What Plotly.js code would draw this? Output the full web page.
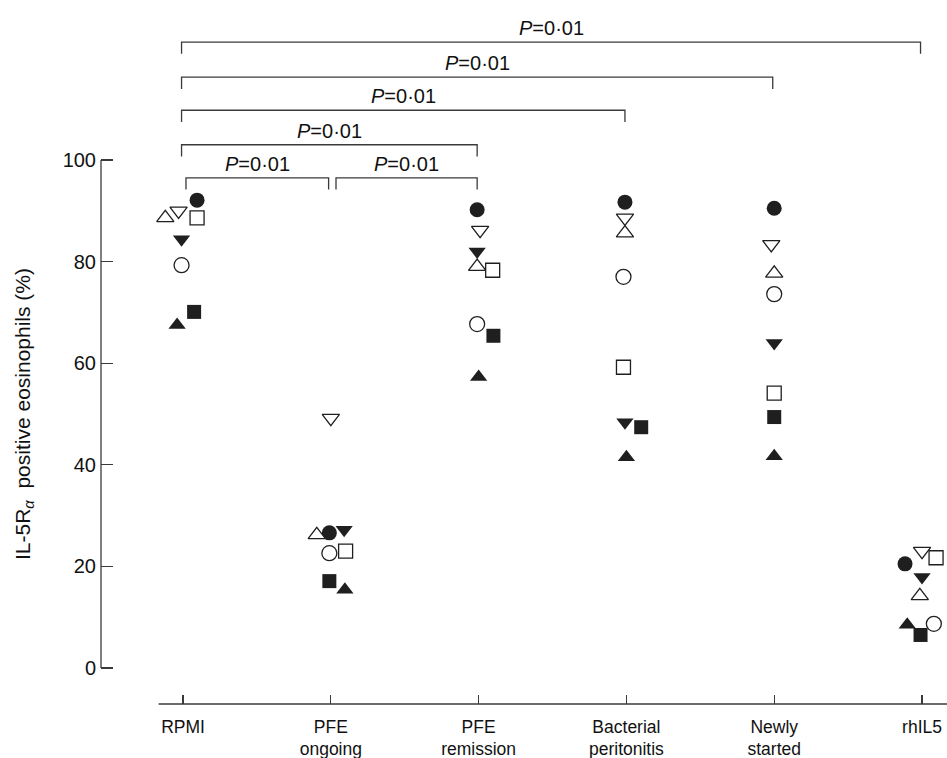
<!DOCTYPE html>
<html>
<head>
<meta charset="utf-8">
<script src="https://cdn.plot.ly/plotly-3.0.1.min.js"></script>
<style>html,body{margin:0;padding:0;background:#fff;}#chart{width:947px;height:758px;}</style>
</head>
<body>
<div id="chart"></div>
<script>
// ---- data ----
const categories = ['RPMI', 'PFE<br>ongoing', 'PFE<br>remission', 'Bacterial<br>peritonitis', 'Newly<br>started', 'rhIL5'];
const yTicks = [0, 20, 40, 60, 80, 100];
const filledCircle   = [92.1, 26.6, 90.2, 91.7, 90.5, 20.5];
const openCircle     = [79.3, 22.6, 67.7, 77.0, 73.6, 8.7];
const filledTriUp    = [67.5, 15.4, 57.3, 41.5, 41.7, 8.5];
const openTriUp      = [88.6, 26.2, 79.0, 85.6, 77.7, 14.2];
const filledTriDown  = [84.4, 27.2, 82.0, 48.4, 64.0, 17.9];
const openTriDown    = [90.0, 49.2, 86.2, 88.6, 83.4, 23.0];
const filledSquare   = [70.1, 17.1, 65.4, 47.4, 49.4, 6.5];
const openSquare     = [88.6, 23.0, 78.3, 59.2, 54.1, 21.7];
const comparisonFrom = [0, 0, 0, 0, 0, 1];
const comparisonTo   = [5, 4, 3, 2, 1, 2];
const comparisonText = ['<i>P</i>=0·01', '<i>P</i>=0·01', '<i>P</i>=0·01', '<i>P</i>=0·01', '<i>P</i>=0·01', '<i>P</i>=0·01'];

// ---- presentation (positions / styles) ----
const ink = '#1f1f1f';
const axisColor = '#3a3a3a';
const font = 'Liberation Sans, Arial, Helvetica, sans-serif';
// horizontal jitter in category units, per subject per category
const jitter = {
  filledCircle:  [0.095, -0.01, -0.01, -0.01, 0.0, -0.115],
  openCircle:    [-0.01, -0.01, -0.01, -0.02, 0.0, 0.08],
  filledTriUp:   [-0.04, 0.095, 0.0, 0.0, 0.0, -0.10],
  openTriUp:     [-0.12, -0.095, -0.01, -0.01, 0.0, -0.015],
  filledTriDown: [-0.01, 0.09, -0.01, -0.01, 0.0, 0.0],
  openTriDown:   [-0.03, 0.0, 0.01, -0.01, -0.02, 0.0],
  filledSquare:  [0.075, -0.01, 0.10, 0.10, 0.0, -0.01],
  openSquare:    [0.095, 0.10, 0.095, -0.02, 0.0, 0.095]
};
const series = [
  {key: 'filledCircle',  y: filledCircle,  symbol: 'circle',        filled: true},
  {key: 'openCircle',    y: openCircle,    symbol: 'circle',        filled: false},
  {key: 'filledTriUp',   y: filledTriUp,   symbol: 'triangle-up',   filled: true},
  {key: 'openTriUp',     y: openTriUp,     symbol: 'triangle-up',   filled: false},
  {key: 'filledTriDown', y: filledTriDown, symbol: 'triangle-down', filled: true},
  {key: 'openTriDown',   y: openTriDown,   symbol: 'triangle-down', filled: false},
  {key: 'filledSquare',  y: filledSquare,  symbol: 'square',        filled: true},
  {key: 'openSquare',    y: openSquare,    symbol: 'square',        filled: false}
];

const traces = series.map(s => ({
  type: 'scatter',
  mode: 'markers',
  x: categories.map((c, i) => i + jitter[s.key][i]),
  y: s.y,
  cliponaxis: false,
  marker: {
    symbol: s.symbol,
    size: s.symbol === 'square' ? 14 : 15,
    color: s.filled ? ink : '#ffffff',
    line: {color: ink, width: s.filled ? 0 : 1.3}
  },
  showlegend: false,
  hoverinfo: 'skip'
}));

// bracket levels (y in data units) and drop length
const levels = [123.2, 116.3, 109.8, 103.0, 96.5, 96.5];
const drop = 2.3;
const shapes = [];
const annotations = [];
comparisonFrom.forEach((a, k) => {
  let x0 = a - 0.01, x1 = comparisonTo[k] - 0.01;
  if (k === 4) { x0 = a + 0.02; x1 = comparisonTo[k] - 0.015; }
  if (k === 5) { x0 = a + 0.035; }
  const yl = levels[k];
  shapes.push({
    type: 'path', xref: 'x', yref: 'y',
    path: `M ${x0},${yl - drop} L ${x0},${yl} L ${x1},${yl} L ${x1},${yl - drop}`,
    line: {color: axisColor, width: 1.3}
  });
  annotations.push({
    xref: 'x', yref: 'y', x: (x0 + x1) / 2, y: yl, yanchor: 'bottom', yshift: 1,
    text: comparisonText[k], showarrow: false,
    font: {family: font, size: 20, color: '#111'}
  });
});
// y axis line from 0 to 100
shapes.push({type: 'line', xref: 'paper', yref: 'y', x0: 0, x1: 0, y0: 0, y1: 100,
  line: {color: axisColor, width: 1.3}});
// x axis line
shapes.push({type: 'line', xref: 'x', yref: 'paper', x0: -0.165, x1: 5.17, y0: 0, y1: 0,
  line: {color: axisColor, width: 1.3}});
// y axis title
annotations.push({
  xref: 'paper', yref: 'y', x: 0, y: 50, xshift: -77, xanchor: 'center', yanchor: 'middle',
  textangle: -90,
  text: 'IL-5R<sub><i>α</i></sub>  positive eosinophils (%)', showarrow: false,
  font: {family: font, size: 21, color: '#111'}
});

const layout = {
  width: 947, height: 758,
  margin: {l: 101, r: 0, t: 0, b: 54},
  paper_bgcolor: '#fff', plot_bgcolor: '#fff',
  font: {family: font, size: 17, color: '#111'},
  xaxis: {
    range: [-0.555, 5.169], showgrid: false, zeroline: false, showline: false,
    tickmode: 'array', tickvals: categories.map((c, i) => i), ticktext: categories,
    ticks: 'inside', ticklen: 9, tickwidth: 1.3, tickcolor: axisColor,
    ticklabelstandoff: 10,
    tickfont: {family: font, size: 17.5, color: '#111'}
  },
  yaxis: {
    range: [-7.09, 131.5], showgrid: false, zeroline: false, showline: false,
    tickmode: 'array', tickvals: yTicks, ticktext: yTicks.map(String),
    ticks: 'inside', ticklen: 12, tickwidth: 1.3, tickcolor: axisColor,
    ticklabelstandoff: 4,
    tickfont: {family: font, size: 20, color: '#111'}
  },
  shapes: shapes,
  annotations: annotations
};

Plotly.newPlot('chart', traces, layout, {staticPlot: true, displayModeBar: false});
</script>
</body>
</html>
